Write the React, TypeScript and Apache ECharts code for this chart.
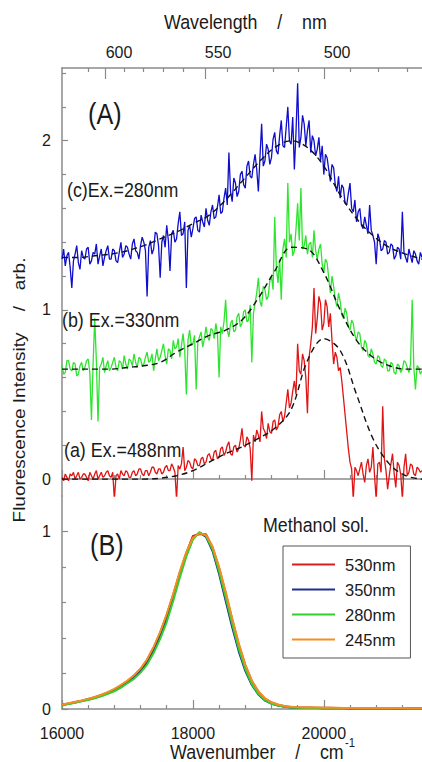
import React, { useEffect, useRef } from "react";
import * as echarts from "echarts";

// ---- axes ----
const WN_MIN = 16000;
const WN_MAX = 21500;
const WN_MAJOR = [16000, 18000, 20000];
const WN_MINOR = [16400, 16800, 17200, 17600, 18400, 18800, 19200, 19600, 20400, 20800, 21200];
const WL_MAJOR = [600, 550, 500];
const WL_MINOR = [610, 590, 580, 570, 560, 540, 530, 520, 510, 490, 480, 470];
const YA_MAJOR = [0, 1, 2];
const YA_MINOR = [0.2, 0.4, 0.6, 0.8, 1.2, 1.4, 1.6, 1.8, 2.2, 2.4];
const YB_MAJOR = [0, 1];
const YB_MINOR = [0.2, 0.4, 0.6, 0.8];

// ---- panel (A): sampled every 25 cm-1 from 16000 ----
const NOISY_START = 16000;
const NOISY_STEP = 25;
const EX_280 = [
  1.30, 1.36, 1.26, 1.32, 1.34, 1.25, 1.13, 1.29, 1.33, 1.38,
  1.28, 1.24, 1.35, 1.31, 1.30, 1.36, 1.37, 1.27, 1.29, 1.34,
  1.33, 1.39, 1.27, 1.32, 1.36, 1.26, 1.31, 1.35, 1.38, 1.30,
  1.30, 1.36, 1.35, 1.29, 1.28, 1.34, 1.40, 1.31, 1.33, 1.38,
  1.37, 1.33, 1.30, 1.39, 1.42, 1.35, 1.34, 1.30, 1.38, 1.43,
  1.40, 1.35, 1.08, 1.37, 1.41, 1.33, 1.36, 1.46, 1.45, 1.38,
  1.19, 1.40, 1.44, 1.37, 1.50, 1.41, 1.23, 1.45, 1.47, 1.40,
  1.42, 1.51, 1.58, 1.44, 1.45, 1.52, 1.13, 1.47, 1.50, 1.43,
  1.48, 1.54, 1.55, 1.47, 1.46, 1.56, 1.52, 1.49, 1.60, 1.53,
  1.50, 1.58, 1.62, 1.54, 1.55, 1.61, 1.68, 1.57, 1.58, 1.66,
  1.72, 1.62, 1.93, 1.70, 1.64, 1.78, 1.75, 1.67, 1.70, 1.80,
  1.82, 1.74, 1.72, 1.85, 1.88, 1.79, 1.78, 1.86, 1.92, 1.83,
  1.70, 1.91, 2.10, 1.85, 1.88, 1.98, 1.95, 1.86, 1.90, 2.01,
  2.05, 1.94, 1.92, 2.03, 2.12, 1.97, 1.96, 2.08, 2.20, 2.00,
  1.98, 2.14, 1.83, 2.05, 2.34, 1.96, 2.02, 2.15, 2.10, 1.97,
  2.06, 2.12, 1.93, 2.03, 2.00, 1.91, 1.95, 2.02, 1.88, 1.97,
  1.80, 1.92, 1.90, 1.83, 1.76, 1.86, 1.84, 1.74, 1.70, 1.79,
  1.66, 1.74, 1.72, 1.63, 1.62, 1.69, 1.75, 1.60, 1.58, 1.65,
  1.52, 1.58, 1.60, 1.50, 1.48, 1.55, 1.50, 1.45, 1.62, 1.47,
  1.44, 1.40, 1.27, 1.45, 1.42, 1.35, 1.36, 1.41, 1.40, 1.33,
  1.34, 1.39, 1.38, 1.30, 1.32, 1.37, 1.36, 1.30, 1.58, 1.34,
  1.31, 1.28, 1.36, 1.32, 1.28, 1.35, 1.33, 1.29, 1.27, 1.34,
  1.31,
];
const EX_330 = [
  0.67, 0.62, 0.63, 0.70, 0.70, 0.65, 0.64, 0.69, 0.68, 0.61,
  0.62, 0.67, 0.69, 0.64, 0.66, 0.70, 0.71, 0.63, 0.35, 0.68,
  0.95, 0.70, 0.34, 0.66, 0.68, 0.72, 0.63, 0.67, 0.70, 0.64,
  0.66, 0.69, 0.72, 0.66, 0.64, 0.70, 0.69, 0.65, 0.73, 0.68,
  0.65, 0.71, 0.70, 0.67, 0.74, 0.69, 0.66, 0.72, 0.71, 0.67,
  0.68, 0.72, 0.75, 0.69, 0.70, 0.74, 0.64, 0.71, 0.77, 0.70,
  0.72, 0.76, 0.80, 0.73, 0.68, 0.77, 0.76, 0.71, 0.82, 0.77,
  0.78, 0.83, 0.72, 0.79, 0.86, 0.76, 0.50, 0.82, 0.88, 0.79,
  0.80, 0.85, 0.53, 0.81, 0.84, 0.87, 0.78, 0.83, 0.90, 0.84,
  0.82, 0.89, 0.88, 0.83, 0.92, 0.86, 0.60, 0.90, 0.86, 0.93,
  1.06, 0.88, 0.84, 0.92, 0.94, 0.87, 0.88, 0.96, 0.98, 0.90,
  0.92, 0.99, 1.00, 0.93, 0.94, 1.03, 0.69, 0.98, 1.04, 1.10,
  1.19, 1.05, 1.02, 1.14, 1.12, 1.06, 1.08, 1.17, 1.20, 1.12,
  1.55, 1.25, 1.16, 1.30, 1.06, 1.36, 1.42, 1.31, 1.75, 1.40,
  1.45, 1.32, 1.35, 1.48, 1.63, 1.41, 1.72, 1.36, 1.38, 1.44,
  1.33, 1.39, 1.40, 1.31, 1.47, 1.35, 1.30, 1.36, 1.39, 1.27,
  1.22, 1.30, 1.28, 1.19, 1.10, 1.20, 1.14, 1.06, 1.02, 1.10,
  1.05, 0.97, 0.95, 1.01, 0.98, 0.90, 0.88, 0.94, 0.92, 0.85,
  0.82, 0.87, 0.86, 0.78, 0.76, 0.82, 0.80, 0.73, 0.72, 0.77,
  0.74, 0.69, 0.68, 0.73, 0.72, 0.67, 0.66, 0.71, 0.70, 0.64,
  0.64, 0.69, 0.68, 0.63, 0.62, 0.68, 0.67, 0.63, 0.65, 0.70,
  0.69, 0.66, 0.63, 0.68, 1.06, 0.66, 0.53, 0.67, 0.66, 0.62,
  0.64,
];
const EX_488 = [
  0.01, -0.01, 0.03, 0.01, -0.01, 0.03, 0.02, 0.04, 0.00, 0.02,
  0.04, 0.00, 0.01, 0.03, 0.03, 0.01, -0.01, 0.04, 0.02, 0.00,
  0.03, 0.05, 0.00, 0.02, 0.04, 0.01, 0.02, 0.04, 0.05, 0.02,
  0.01, 0.04, -0.12, 0.02, 0.03, 0.00, 0.05, 0.03, 0.02, 0.05,
  0.04, 0.01, 0.01, 0.04, 0.05, 0.02, 0.03, 0.06, 0.06, 0.03,
  0.02, 0.05, 0.05, 0.02, 0.04, 0.07, 0.07, 0.04, 0.03, 0.06,
  0.06, 0.03, 0.04, 0.07, 0.08, 0.05, 0.05, 0.09, 0.07, 0.04,
  -0.12, 0.08, 0.06, 0.09, 0.19, 0.05, 0.07, 0.11, 0.10, 0.07,
  0.06, 0.12, 0.11, 0.08, 0.08, 0.12, 0.13, 0.09, 0.10, 0.14,
  0.15, 0.12, 0.11, 0.16, 0.17, 0.12, 0.13, 0.18, 0.19, 0.14,
  0.16, 0.20, 0.22, 0.15, 0.14, 0.19, 0.20, 0.16, 0.18, 0.23,
  0.30, 0.20, 0.19, 0.25, 0.23, 0.18, -0.01, 0.26, 0.22, 0.29,
  0.26, 0.22, 0.40, 0.30, 0.28, 0.24, 0.33, 0.28, 0.27, 0.34,
  0.35, 0.29, 0.31, 0.38, 0.40, 0.34, 0.37, 0.45, 0.53, 0.42,
  0.45, 0.52, 0.58, 0.50, 0.80, 0.64, 0.62, 0.74, 0.70, 0.60,
  0.39, 0.72, 0.80, 0.90, 1.13, 0.86, 0.95, 1.08, 1.04, 0.88,
  0.92, 1.06, 1.02, 0.90, 0.98, 0.82, 0.68, 0.75, 0.72, 0.64,
  0.66, 0.58, 0.48, 0.38, 0.28, 0.18, 0.10, 0.06, -0.12, 0.07,
  0.05, 0.02, 0.06, 0.10, 0.03, -0.02, 0.08, 0.12, 0.04, 0.07,
  0.19, 0.02, -0.12, 0.09, 0.10, 0.04, 0.43, 0.12, 0.05, -0.06,
  0.02, 0.09, 0.15, 0.03, -0.05, 0.10, 0.08, 0.03, -0.12, 0.07,
  0.15, 0.02, 0.04, 0.09, 0.08, 0.03, 0.02, 0.07, 0.06, 0.04,
  0.05,
];

// ---- fitted curves, every 250 cm-1 from 16000 ----
const FIT_STEP = 250;
const FIT_280 = [1.31, 1.31, 1.32, 1.33, 1.35, 1.38, 1.42, 1.46, 1.51, 1.56, 1.65, 1.76, 1.87, 1.96, 2.0, 1.96, 1.85, 1.68, 1.54, 1.44, 1.37, 1.33, 1.30];
const FIT_330 = [0.65, 0.65, 0.65, 0.65, 0.66, 0.67, 0.69, 0.75, 0.80, 0.85, 0.88, 0.94, 1.07, 1.23, 1.37, 1.36, 1.22, 1.0, 0.82, 0.72, 0.67, 0.65, 0.65];
const FIT_488 = [0, 0, 0, 0, 0, 0, 0.005, 0.02, 0.05, 0.10, 0.15, 0.19, 0.24, 0.30, 0.41, 0.70, 0.83, 0.76, 0.50, 0.24, 0.09, 0.02, 0];

// ---- panel (B): methanol solution, every 100 cm-1 from 16000 ----
const SOL_STEP = 100;
const SOL_530 = [
  0.024, 0.031, 0.039, 0.047, 0.056, 0.067, 0.079, 0.094, 0.111, 0.133,
  0.158, 0.188, 0.225, 0.277, 0.346, 0.430, 0.530, 0.645, 0.770, 0.880,
  0.975, 0.985, 0.985, 0.910, 0.795, 0.655, 0.505, 0.365, 0.247, 0.158,
  0.098, 0.059, 0.037, 0.024, 0.016, 0.011, 0.009, 0.008, 0.008, 0.007,
  0.007, 0.007, 0.006, 0.006, 0.006, 0.006, 0.005, 0.005, 0.005, 0.005,
  0.005, 0.004, 0.004, 0.004, 0.004, 0.004,
];
const SOL_350 = [
  0.022, 0.030, 0.037, 0.045, 0.053, 0.063, 0.075, 0.088, 0.104, 0.125,
  0.150, 0.177, 0.213, 0.260, 0.327, 0.410, 0.505, 0.625, 0.755, 0.870,
  0.960, 0.995, 0.970, 0.890, 0.760, 0.610, 0.460, 0.325, 0.215, 0.135,
  0.082, 0.048, 0.030, 0.020, 0.013, 0.009, 0.007, 0.006, 0.005, 0.005,
  0.004, 0.004, 0.004, 0.004, 0.003, 0.003, 0.003, 0.003, 0.003, 0.003,
  0.003, 0.003, 0.003, 0.003, 0.003, 0.003,
];
const SOL_280 = [
  0.020, 0.028, 0.035, 0.043, 0.050, 0.060, 0.072, 0.085, 0.100, 0.120,
  0.145, 0.170, 0.205, 0.250, 0.315, 0.395, 0.490, 0.610, 0.740, 0.860,
  0.955, 0.995, 0.975, 0.900, 0.775, 0.630, 0.480, 0.340, 0.225, 0.140,
  0.085, 0.050, 0.030, 0.020, 0.013, 0.009, 0.007, 0.006, 0.005, 0.005,
  0.004, 0.004, 0.004, 0.004, 0.004, 0.003, 0.003, 0.003, 0.003, 0.003,
  0.003, 0.003, 0.003, 0.003, 0.003, 0.003,
];
const SOL_245 = [
  0.025, 0.032, 0.040, 0.048, 0.057, 0.068, 0.080, 0.095, 0.113, 0.135,
  0.160, 0.190, 0.228, 0.280, 0.350, 0.435, 0.535, 0.650, 0.775, 0.885,
  0.965, 0.990, 0.980, 0.915, 0.800, 0.660, 0.510, 0.370, 0.250, 0.160,
  0.100, 0.060, 0.038, 0.025, 0.017, 0.012, 0.010, 0.009, 0.008, 0.008,
  0.007, 0.007, 0.007, 0.006, 0.006, 0.006, 0.006, 0.005, 0.005, 0.005,
  0.005, 0.005, 0.005, 0.004, 0.004, 0.004,
];
const SOL_NAMES = ["530nm", "350nm", "280nm", "245nm"];

const FONT = "'Liberation Sans', Arial, sans-serif";
const AXC = "#8a8a8a";
const TXT = "#1a1a1a";
const SX = 0.87;

const toWn = (nm: number) => 1e7 / nm;
const pairs = (arr: number[], start: number, step: number) => arr.map((v, i) => [start + i * step, v]);

function line(name: string, data: number[][], color: string, width: number, xi: number, yi: number, dashed = false) {
  return {
    name,
    type: "line",
    xAxisIndex: xi,
    yAxisIndex: yi,
    data,
    showSymbol: false,
    symbol: "none",
    smooth: dashed ? 0.35 : false,
    lineStyle: { color, width, type: dashed ? [6, 4] : "solid" },
    itemStyle: { color },
    z: dashed ? 5 : 2,
  };
}

function xAx(grid: number, position: string, ticks: number[], len: number, showLine: boolean, label?: any) {
  return {
    type: "value",
    gridIndex: grid,
    position,
    min: WN_MIN,
    max: WN_MAX,
    splitLine: { show: false },
    axisLine: { show: showLine, lineStyle: { color: AXC, width: 1.5 } },
    axisTick: { show: true, inside: true, length: len, customValues: ticks, lineStyle: { color: AXC, width: 1.2 } },
    axisLabel: label || { show: false },
  };
}

function yAx(grid: number, min: number, max: number, ticks: number[], len: number, showLine: boolean, label?: any) {
  return {
    type: "value",
    gridIndex: grid,
    position: "left",
    min,
    max,
    splitLine: { show: false },
    axisLine: { show: showLine, lineStyle: { color: AXC, width: 1.5 } },
    axisTick: { show: true, inside: true, length: len, customValues: ticks, lineStyle: { color: AXC, width: 1.2 } },
    axisLabel: label || { show: false },
  };
}

function txt(text: string, x: number, y: number, size: number, extra: any = {}) {
  return {
    type: "text",
    x,
    y,
    scaleX: SX,
    z: 20,
    style: {
      text,
      fontSize: size,
      fontFamily: FONT,
      fill: TXT,
      align: "left",
      verticalAlign: "middle",
      textAlign: "left",
      textVerticalAlign: "middle",
    },
    ...extra,
  };
}

export default function App() {
  const ref = useRef<HTMLDivElement>(null);
  useEffect(() => {
    if (!ref.current) return;
    const chart = echarts.init(ref.current, null, { renderer: "svg" });
    const labelStyle = { fontSize: 16, fontFamily: FONT, color: TXT };
    const wlTicks = WL_MAJOR.map(toWn);
    const option: any = {
      animation: false,
      backgroundColor: "#ffffff",
      grid: [
        { left: 62, top: 68, width: 360, height: 428, outerBoundsMode: "none" },
        { left: 62, top: 496, width: 360, height: 213, outerBoundsMode: "none" },
      ],
      xAxis: [
        xAx(0, "bottom", WN_MAJOR, 9, true),
        xAx(0, "bottom", WN_MINOR, 4, false),
        xAx(0, "top", wlTicks, 11, true, {
          show: true,
          customValues: wlTicks,
          formatter: (v: number) => String(Math.round(1e7 / v)),
          align: "left",
          margin: 8,
          ...labelStyle,
        }),
        xAx(0, "top", WL_MINOR.map(toWn), 4, false),
        xAx(1, "bottom", WN_MAJOR, 9, true, {
          show: true,
          customValues: WN_MAJOR,
          formatter: (v: number) => String(v),
          margin: 16,
          ...labelStyle,
        }),
        xAx(1, "bottom", WN_MINOR, 4, false),
      ],
      yAxis: [
        yAx(0, -0.1, 2.43, YA_MAJOR, 6, true, { show: true, customValues: YA_MAJOR, margin: 11, ...labelStyle }),
        yAx(0, -0.1, 2.43, YA_MINOR, 4, false),
        yAx(1, 0, 1.2, YB_MAJOR, 6, true, { show: true, customValues: YB_MAJOR, margin: 11, ...labelStyle }),
        yAx(1, 0, 1.2, YB_MINOR, 4, false),
      ],
      legend: {
        data: SOL_NAMES,
        orient: "vertical",
        left: 283,
        top: 546,
        padding: [10, 15, 10, 9],
        itemGap: 8,
        itemWidth: 43,
        itemHeight: 2,
        icon: "rect",
        borderColor: "#555",
        borderWidth: 1,
        selectedMode: false,
        textStyle: { fontSize: 16.5, fontFamily: FONT, color: TXT, padding: [0, 0, 0, 5] },
      },
      series: [
        line("Ex280", pairs(EX_280, NOISY_START, NOISY_STEP), "#0e0ecc", 1.3, 0, 0),
        line("Ex330", pairs(EX_330, NOISY_START, NOISY_STEP), "#2fe42f", 1.3, 0, 0),
        line("Ex488", pairs(EX_488, NOISY_START, NOISY_STEP), "#e01414", 1.3, 0, 0),
        line("Fit280", pairs(FIT_280, NOISY_START, FIT_STEP), "#111111", 1.4, 0, 0, true),
        line("Fit330", pairs(FIT_330, NOISY_START, FIT_STEP), "#111111", 1.4, 0, 0, true),
        line("Fit488", pairs(FIT_488, NOISY_START, FIT_STEP), "#111111", 1.4, 0, 0, true),
        line(SOL_NAMES[0], pairs(SOL_530, NOISY_START, SOL_STEP), "#d42020", 2, 4, 2),
        line(SOL_NAMES[1], pairs(SOL_350, NOISY_START, SOL_STEP), "#1f2f8f", 2, 4, 2),
        line(SOL_NAMES[2], pairs(SOL_280, NOISY_START, SOL_STEP), "#30d030", 2, 4, 2),
        line(SOL_NAMES[3], pairs(SOL_245, NOISY_START, SOL_STEP), "#f09020", 2, 4, 2),
      ],
      graphic: [
        txt("Wavelength    /    nm", 164, 22, 20.5),
        txt("Wavenumber    /    cm", 170, 752, 20.5),
        txt("-1", 345, 743, 13),
        txt("(A)", 88, 114, 29),
        txt("(B)", 90, 545, 29),
        txt("(c)Ex.=280nm", 67, 190, 20.5),
        txt("(b) Ex.=330nm", 62, 320, 20.5),
        txt("(a) Ex.=488nm", 64, 450, 20.5),
        txt("Methanol sol.", 263, 525, 20.5),
        {
          type: "text",
          x: 19,
          y: 390,
          rotation: Math.PI / 2,
          scaleY: SX,
          z: 20,
          style: {
            text: "Fluorescence Intensity    /   arb.",
            fontSize: 19,
            fontFamily: FONT,
            fill: TXT,
            align: "center",
            verticalAlign: "middle",
            textAlign: "center",
            textVerticalAlign: "middle",
          },
        },
      ],
    };
    chart.setOption(option);
    return () => chart.dispose();
  }, []);
  return <div ref={ref} style={{ position: "fixed", left: 0, top: 0, width: 422, height: 762, background: "#fff" }} />;
}
